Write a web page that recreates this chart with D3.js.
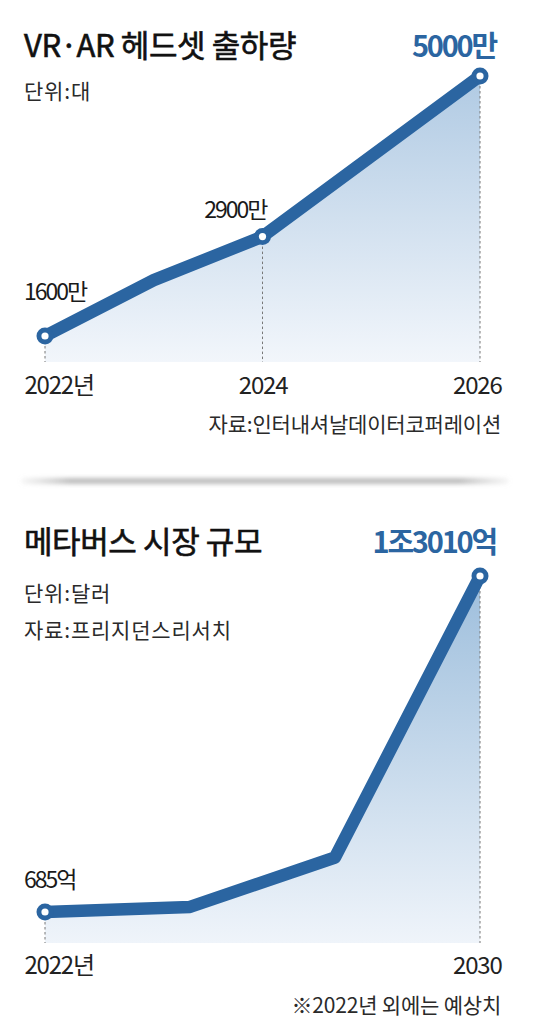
<!DOCTYPE html>
<html>
<head>
<meta charset="utf-8">
<script src="https://cdn.jsdelivr.net/npm/d3@7"></script>
<style>
  html, body { margin: 0; padding: 0; background: #fff; }
  svg { display: block; }
  text { font-family: "Noto Sans CJK KR", "Noto Sans", sans-serif; }
</style>
</head>
<body>
<svg id="chart" width="535" height="1024"></svg>
<script>
// ---- Data: chart 1 (VR·AR headset shipments, unit: 만 대) ----
const headsetCategories = ['2022년', '2023', '2024', '2025', '2026'];
const headsetValues = [1600, 2330, 2900, 3950, 5000];
const headsetTickLabels = ['2022년', '', '2024', '', '2026'];
const headsetPointLabels = ['1600만', null, '2900만', null, '5000만'];

// ---- Data: chart 2 (Metaverse market size, unit: 억 달러) ----
const metaCategories = ['2022년', 'p2', 'p3', '2030'];
const metaValues = [685, 870, 2685, 13010];
const metaTickLabels = ['2022년', '', '', '2030'];
const metaPointLabels = ['685억', null, null, '1조3010억'];

const BLUE = '#2b65a1';
const svg = d3.select('#chart');
const defs = svg.append('defs');

function gradient(id, top, bottom) {
  const g = defs.append('linearGradient').attr('id', id)
    .attr('x1', 0).attr('y1', 0).attr('x2', 0).attr('y2', 1);
  g.append('stop').attr('offset', '0%').attr('stop-color', top);
  g.append('stop').attr('offset', '100%').attr('stop-color', bottom);
}
gradient('gradTop', '#b0cae3', '#f2f6fb');
gradient('gradBot', '#9dbedc', '#eff4fa');

const blur = defs.append('filter').attr('id', 'blur')
  .attr('x', '-10%').attr('y', '-200%').attr('width', '120%').attr('height', '500%');
blur.append('feGaussianBlur').attr('stdDeviation', 2.2);
const sepGrad = defs.append('linearGradient').attr('id', 'sepGrad');
sepGrad.append('stop').attr('offset', '0%').attr('stop-color', '#cfcfcf').attr('stop-opacity', 0.2);
sepGrad.append('stop').attr('offset', '10%').attr('stop-color', '#bdbdbd');
sepGrad.append('stop').attr('offset', '90%').attr('stop-color', '#bdbdbd');
sepGrad.append('stop').attr('offset', '100%').attr('stop-color', '#cfcfcf').attr('stop-opacity', 0.2);

function drawChart(cfg) {
  const g = svg.append('g');
  const x = d3.scalePoint().domain(cfg.categories).range([45, 480]);
  const y = d3.scaleLinear().domain(d3.extent(cfg.values)).range([cfg.yLow, cfg.yHigh]);
  const data = cfg.categories.map((c, i) => ({ c, v: cfg.values[i], label: cfg.pointLabels[i] }));

  // title
  g.append('text').attr('x', 24).attr('y', cfg.titleY)
    .attr('font-size', 31).attr('font-weight', 400).attr('fill', '#111')
    .attr('stroke', '#111').attr('stroke-width', 0.6)
    .attr('letter-spacing', -0.4).text(cfg.title);
  cfg.subs.forEach((s, i) => {
    g.append('text').attr('x', 24).attr('y', cfg.subY[i])
      .attr('font-size', 21).attr('fill', '#2a2a2a').attr('letter-spacing', 0.8).text(s);
  });

  // area
  const area = d3.area().x(d => x(d.c)).y0(cfg.baseline).y1(d => y(d.v));
  g.append('path').datum(data).attr('d', area).attr('fill', `url(#${cfg.grad})`);

  // dashed guides
  const marked = data.filter(d => d.label);
  g.selectAll('line.guide').data(marked).join('line')
    .attr('x1', d => x(d.c)).attr('x2', d => x(d.c))
    .attr('y1', d => y(d.v)).attr('y2', cfg.baseline)
    .attr('stroke', '#777').attr('stroke-width', 1).attr('stroke-dasharray', '2.5,2.5');

  // line
  const line = d3.line().x(d => x(d.c)).y(d => y(d.v));
  g.append('path').datum(data).attr('d', line).attr('fill', 'none')
    .attr('stroke', BLUE).attr('stroke-width', 12.5)
    .attr('stroke-linejoin', 'round').attr('stroke-linecap', 'round');

  // markers
  g.selectAll('circle.outer').data(marked).join('circle')
    .attr('cx', d => x(d.c)).attr('cy', d => y(d.v)).attr('r', 8.5).attr('fill', BLUE);
  g.selectAll('circle.inner').data(marked).join('circle')
    .attr('cx', d => x(d.c)).attr('cy', d => y(d.v)).attr('r', 3.6).attr('fill', '#fff');

  // point labels
  const last = data.length - 1;
  data.forEach((d, i) => {
    if (!d.label) return;
    if (i === last) {
      g.append('text').attr('x', 496).attr('y', cfg.titleY)
        .attr('text-anchor', 'end').attr('font-size', 29).attr('font-weight', 700)
        .attr('fill', BLUE).attr('letter-spacing', -2.2).text(d.label);
    } else if (i === 0) {
      g.append('text').attr('x', 24).attr('y', y(d.v) + cfg.firstDy)
        .attr('font-size', 23).attr('fill', '#1a1a1a').attr('letter-spacing', -2).text(d.label);
    } else {
      g.append('text').attr('x', x(d.c) + 4).attr('y', y(d.v) - 19)
        .attr('text-anchor', 'end').attr('font-size', 23).attr('fill', '#1a1a1a')
        .attr('letter-spacing', -2).text(d.label);
    }
  });

  // x axis
  const axis = d3.axisBottom(x).tickSize(0).tickPadding(0)
    .tickFormat((c, i) => cfg.tickLabels[i]);
  const ax = g.append('g').attr('transform', `translate(0,${cfg.axisY})`).call(axis);
  ax.select('.domain').remove();
  ax.selectAll('text').attr('font-size', 24).attr('fill', '#222')
    .attr('letter-spacing', -1.2).attr('dy', 0)
    .style('font-family', '"Noto Sans CJK KR", sans-serif');
  ax.selectAll('.tick').filter((c, i) => i === 0).select('text')
    .attr('text-anchor', 'start').attr('dx', -21);
  ax.selectAll('.tick').filter((c, i) => i === cfg.categories.length - 1).select('text')
    .attr('text-anchor', 'end').attr('dx', 21);

  // footnote
  g.append('text').attr('x', 501).attr('y', cfg.noteY).attr('text-anchor', 'end')
    .attr('font-size', 21).attr('fill', '#2a2a2a').attr('letter-spacing', -0.2).text(cfg.note);
}

drawChart({
  title: 'VR·AR 헤드셋 출하량', titleY: 57,
  subs: ['단위:대'], subY: [99],
  categories: headsetCategories, values: headsetValues,
  tickLabels: headsetTickLabels, pointLabels: headsetPointLabels,
  yLow: 336, yHigh: 76, baseline: 362, axisY: 394, grad: 'gradTop', firstDy: -36,
  note: '자료:인터내셔날데이터코퍼레이션', noteY: 432
});

// separator shadow
svg.append('rect').attr('x', 22).attr('y', 478).attr('width', 486).attr('height', 6)
  .attr('fill', 'url(#sepGrad)').attr('filter', 'url(#blur)');

drawChart({
  title: '메타버스 시장 규모', titleY: 553,
  subs: ['단위:달러', '자료:프리지던스리서치'], subY: [601, 638],
  categories: metaCategories, values: metaValues,
  tickLabels: metaTickLabels, pointLabels: metaPointLabels,
  yLow: 912, yHigh: 576, baseline: 943, axisY: 974, grad: 'gradBot', firstDy: -24,
  note: '※2022년 외에는 예상치', noteY: 1013
});
</script>
</body>
</html>
